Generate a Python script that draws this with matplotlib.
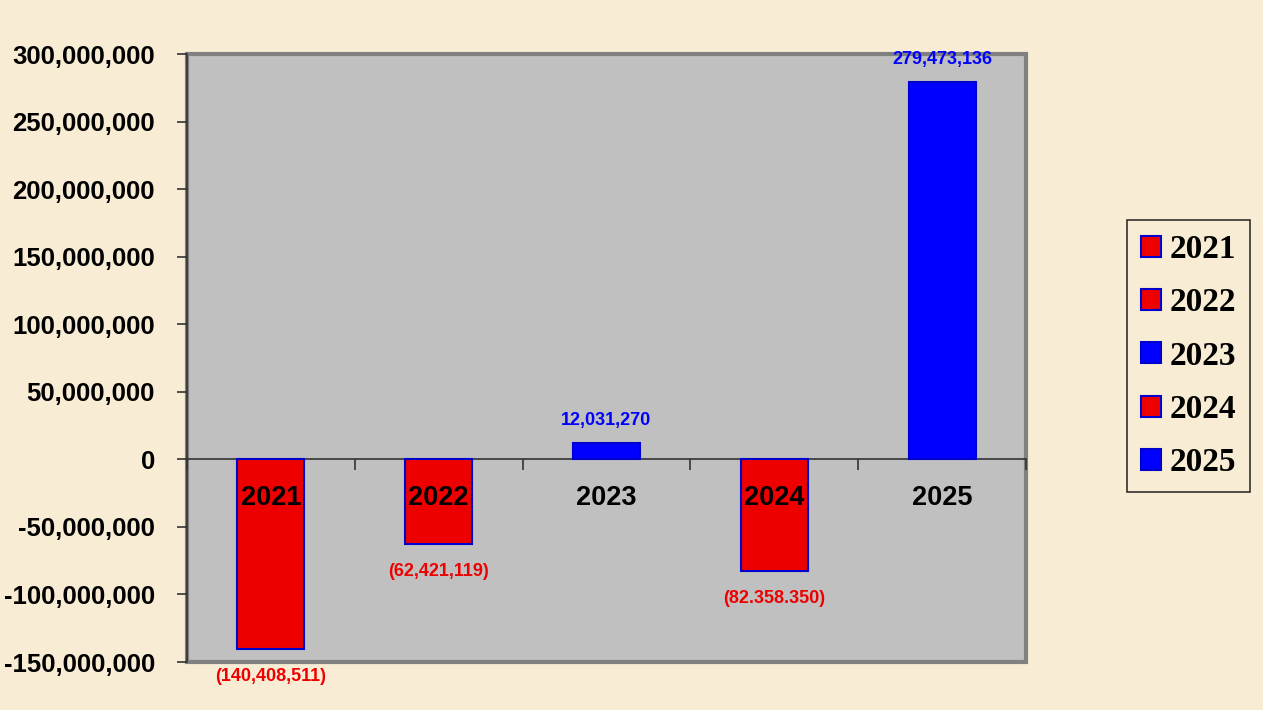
import matplotlib
matplotlib.use("Agg")
import matplotlib.pyplot as plt
from matplotlib.patches import Rectangle, Patch
from matplotlib.ticker import FuncFormatter, FixedLocator

categories = ["2021", "2022", "2023", "2024", "2025"]
values = [-140408511, -62421119, 12031270, -82358350, 279473136]
value_labels = ["(140,408,511)", "(62,421,119)", "12,031,270", "(82.358.350)", "279,473,136"]
y_ticks = [-150000000, -100000000, -50000000, 0, 50000000, 100000000,
           150000000, 200000000, 250000000, 300000000]

RED = "#EE0000"
BLUE = "#0000FF"
EDGE = "#0000CC"
BG = "#F8EDD4"
PLOT_BG = "#C0C0C0"

fig = plt.figure(figsize=(12.63, 7.10), dpi=100, facecolor=BG)
ax = fig.add_axes([187/1263, 48/710, (1026-187)/1263, (662-54)/710])
ax.set_facecolor(PLOT_BG)

x = list(range(len(categories)))
colors = [RED if v < 0 else BLUE for v in values]
ax.bar(x, values, width=0.40, color=colors, edgecolor=EDGE, linewidth=1.5, zorder=3)

ax.set_xlim(-0.5, len(categories) - 0.5)
ax.set_ylim(y_ticks[0], y_ticks[-1])

# frame
for s in ["top", "right"]:
    ax.spines[s].set_visible(False)
ax.spines["left"].set_color("#333333")
ax.spines["left"].set_linewidth(1.2)
ax.spines["bottom"].set_position(("data", 0))
ax.spines["bottom"].set_color("#333333")
ax.spines["bottom"].set_linewidth(1.2)
ax.add_patch(Rectangle((0, 0), 1, 1, transform=ax.transAxes, fill=False,
                       edgecolor="#808080", linewidth=3, clip_on=False, zorder=1))

ax.yaxis.set_major_locator(FixedLocator(y_ticks))
ax.yaxis.set_major_formatter(FuncFormatter(lambda v, p: f"{int(v):,}"))
ax.tick_params(axis="y", direction="out", length=7, width=1.2, pad=16,
               labelsize=18.5, color="#333333")
for lab in ax.get_yticklabels():
    lab.set_fontweight("bold")
    lab.set_fontfamily("Liberation Sans")

ax.set_xticks([i + 0.5 for i in x[:-1]] + [-0.5, len(categories) - 0.5])
ax.set_xticklabels([])
ax.tick_params(axis="x", which="major", direction="out", length=8, width=1.2, color="#333333")

# category labels drawn above the bars
for xi, cat in zip(x, categories):
    ax.annotate(cat, (xi, 0), xytext=(0, -28), textcoords="offset points",
                ha="center", va="center", color="black", fontsize=19.5,
                fontweight="bold", fontfamily="Liberation Sans",
                annotation_clip=False, zorder=6)

for xi, v, lbl, c in zip(x, values, value_labels, colors):
    off = 16 if v >= 0 else -20
    ax.annotate(lbl, (xi, v), xytext=(0, off), textcoords="offset points",
                ha="center", va="center", color=c, fontsize=13, fontweight="bold",
                fontfamily="Liberation Sans", annotation_clip=False, zorder=6)

handles = [Patch(facecolor=c, edgecolor=EDGE, linewidth=1.5) for c in colors]
leg = fig.legend(handles, categories, loc="center left",
                 bbox_to_anchor=(1127/1263, 1 - 356/710),
                 prop={"family": "Liberation Serif", "weight": "bold", "size": 24},
                 frameon=True, fancybox=False, edgecolor="black", facecolor="none",
                 handlelength=0.6, handleheight=0.6, handletextpad=0.25,
                 labelspacing=0.67, borderpad=0.42, borderaxespad=0)
leg.get_frame().set_linewidth(1.2)

fig.savefig("out.png", dpi=100, facecolor=BG)
